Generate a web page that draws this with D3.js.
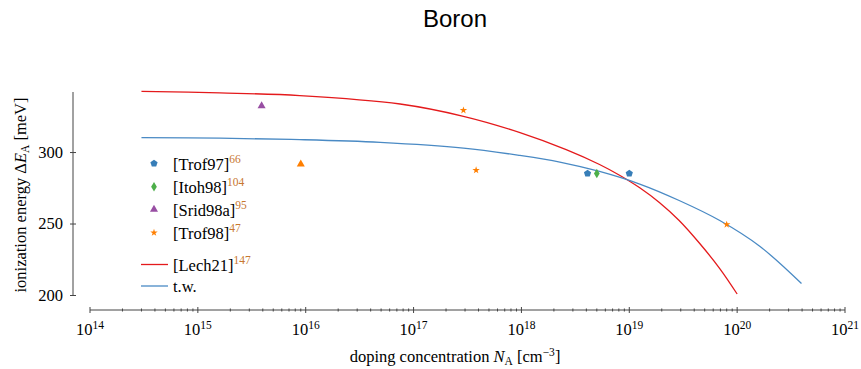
<!DOCTYPE html>
<html>
<head>
<meta charset="utf-8">
<script src="https://cdn.jsdelivr.net/npm/d3@7"></script>
<style>
    body { margin: 0; background: #fff; }
    text { font-family: "Liberation Serif", "Times New Roman", serif; }
</style>
</head>
<body>
<div id="chart"></div>
<script>
/* * * * * * * * * * * * * *
*           DATA           *
* * * * * * * * * * * * * */

// Lech21 model curve
let lechN = [3e14, 1.6e15, 8.8e15, 7.5e16, 2.9e17, 9.7e17, 2.6e18, 5.3e18, 8.2e18, 1.25e19, 1.9e19, 2.9e19, 4.5e19, 6.9e19, 1e20];
let lechE = [342.5, 341.4, 339.5, 333.6, 325.0, 313.6, 301.7, 291.3, 283.6, 275.0, 264.7, 252.1, 236.0, 218.5, 200.7];

// this work (t.w.)
let twN = [3e14, 1.6e15, 8.8e15, 4.9e16, 2.9e17, 9.7e17, 2.27e18, 5.3e18, 1.25e19, 2.9e19, 6.9e19, 1.62e20, 3.95e20];
let twE = [310.1, 309.7, 308.7, 306.8, 302.8, 297.6, 293.0, 286.4, 277.6, 266.1, 252.1, 234.1, 208.0];

// measurements
let trof97N = [4.1e18, 1e19],          trof97E = [285, 285];
let itoh98N = [5e18],                  itoh98E = [285];
let srid98aN = [3.9e15],               srid98aE = [332.2];
let trof98N = [2.9e17, 3.8e17, 8e19],  trof98E = [329.2, 287.3, 249.3];
let trof98bN = [9e15],                 trof98bE = [291.5];

let yTicks = [200, 250, 300];
let xDecades = [14, 15, 16, 17, 18, 19, 20, 21];

let legendNames = ["[Trof97]", "[Itoh98]", "[Srid98a]", "[Trof98]", "[Lech21]", "t.w."];
let legendRefs = ["66", "104", "95", "47", "147", ""];

/* * * * * * * * * * * * * *
*           MAIN           *
* * * * * * * * * * * * * */

let width = 861, height = 369;

let svg = d3.select("#chart").append("svg")
    .attr("width", width)
    .attr("height", height);

let x = d3.scaleLog().domain([1e14, 1e21]).range([90, 845]);
let y = d3.scaleLinear().domain([200, 342]).range([295, 92]);

let axisColor = "#444";
let refColor = "#c8772f";

// pentagon marker, d3 has none
let symbolPentagon = {
    draw: function(ctx, size) {
        let r = Math.sqrt(size / 2.378);
        for (let i = 0; i < 5; i++) {
            let a = -Math.PI / 2 + i * 2 * Math.PI / 5;
            if (i === 0) ctx.moveTo(r * Math.cos(a), r * Math.sin(a));
            else ctx.lineTo(r * Math.cos(a), r * Math.sin(a));
        }
        ctx.closePath();
    }
};
let symbolThinDiamond = {
    draw: function(ctx, size) {
        let h = Math.sqrt(size) * 0.75, w = h * 0.6;
        ctx.moveTo(0, -h); ctx.lineTo(w, 0); ctx.lineTo(0, h); ctx.lineTo(-w, 0);
        ctx.closePath();
    }
};

// title
svg.append("text")
    .attr("x", 455).attr("y", 27)
    .attr("text-anchor", "middle")
    .style("font-family", "'Liberation Sans', Arial, sans-serif")
    .style("font-size", "24px")
    .text("Boron");

// y axis
let yAxis = d3.axisLeft(y).tickValues(yTicks).tickSize(3).tickPadding(7);
let yG = svg.append("g")
    .attr("transform", "translate(73,0)")
    .call(yAxis);
yG.select(".domain").attr("d", "M0," + y(200) + "V" + y(342)).attr("stroke", axisColor);
yG.selectAll(".tick line").attr("x2", -3).attr("x1", 3).attr("stroke", axisColor);
yG.selectAll(".tick text")
    .style("font-size", "16.5px")
    .style("font-family", "'Liberation Serif', serif")
    .attr("fill", "#000");

// x axis, drawn by hand so ticks cross the line (pgfplots style)
let xG = svg.append("g").attr("class", "x-axis");
xG.append("line")
    .attr("x1", x(1e14)).attr("x2", x(1e21))
    .attr("y1", 310).attr("y2", 310)
    .attr("stroke", axisColor);

let minorTicks = [];
for (let d = 14; d < 21; d++) {
    for (let m = 2; m < 10; m++) minorTicks.push(m * Math.pow(10, d));
}
xG.selectAll(".minor").data(minorTicks).enter().append("line")
    .attr("class", "minor")
    .attr("x1", d => x(d)).attr("x2", d => x(d))
    .attr("y1", 308.5).attr("y2", 311.5)
    .attr("stroke", axisColor);
xG.selectAll(".major").data(xDecades).enter().append("line")
    .attr("class", "major")
    .attr("x1", d => x(Math.pow(10, d))).attr("x2", d => x(Math.pow(10, d)))
    .attr("y1", 307).attr("y2", 313)
    .attr("stroke", axisColor);

let xLabels = xG.selectAll(".xlab").data(xDecades).enter().append("text")
    .attr("class", "xlab")
    .attr("x", d => x(Math.pow(10, d)))
    .attr("y", 335)
    .attr("text-anchor", "middle")
    .style("font-size", "16.5px");
xLabels.append("tspan").text("10");
xLabels.append("tspan").attr("dy", -6).style("font-size", "11.5px").text(d => d);

// axis titles
let xt = svg.append("text")
    .attr("x", 455).attr("y", 362)
    .attr("text-anchor", "middle")
    .style("font-size", "16.5px");
xt.append("tspan").text("doping concentration ");
xt.append("tspan").style("font-style", "italic").text("N");
xt.append("tspan").attr("dy", 3).style("font-size", "11.5px").text("A");
xt.append("tspan").attr("dy", -3).text(" [cm");
xt.append("tspan").attr("dy", -6).style("font-size", "11.5px").text("\u22123");
xt.append("tspan").attr("dy", 6).text("]");

let yt = svg.append("text")
    .attr("transform", "translate(26,195) rotate(-90)")
    .attr("text-anchor", "middle")
    .style("font-size", "16.5px");
yt.append("tspan").text("ionization energy \u0394");
yt.append("tspan").style("font-style", "italic").text("E");
yt.append("tspan").attr("dy", 3).style("font-size", "11.5px").text("A");
yt.append("tspan").attr("dy", -3).text(" [meV]");

// curves
let line = d3.line()
    .x(d => x(d[0]))
    .y(d => y(d[1]))
    .curve(d3.curveCatmullRom.alpha(0.5));

let curves = [
    {n: lechN, e: lechE, color: "#e41a1c"},
    {n: twN, e: twE, color: "#4a8ac4"}
];
curves.forEach(function(c) {
    svg.append("path")
        .datum(d3.zip(c.n, c.e))
        .attr("d", line)
        .attr("fill", "none")
        .attr("stroke", c.color)
        .attr("stroke-width", 1.3);
});

// scatter series
let series = [
    {n: trof97N, e: trof97E, color: "#377eb8", type: symbolPentagon, size: 34},
    {n: itoh98N, e: itoh98E, color: "#4daf4a", type: symbolThinDiamond, size: 40},
    {n: srid98aN, e: srid98aE, color: "#984ea3", type: d3.symbolTriangle, size: 28},
    {n: trof98N, e: trof98E, color: "#ff7f00", type: d3.symbolStar, size: 17},
    {n: trof98bN, e: trof98bE, color: "#ff7f00", type: d3.symbolTriangle, size: 28}
];
series.forEach(function(s) {
    svg.selectAll(null).data(d3.zip(s.n, s.e)).enter().append("path")
        .attr("d", d3.symbol().type(s.type).size(s.size))
        .attr("transform", d => "translate(" + x(d[0]) + "," + y(d[1]) + ")")
        .attr("fill", s.color);
});

// legend
let legendY = [163.5, 186.7, 209.5, 232.7, 264.5, 286];
let legend = svg.append("g").attr("class", "legend");
legendNames.forEach(function(name, i) {
    let ly = legendY[i];
    if (i < 4) {
        let s = series[i];
        legend.append("path")
            .attr("d", d3.symbol().type(s.type).size(s.size))
            .attr("transform", "translate(154," + ly + ")")
            .attr("fill", s.color);
    } else {
        legend.append("line")
            .attr("x1", 141).attr("x2", 168)
            .attr("y1", ly).attr("y2", ly)
            .attr("stroke", curves[i - 4].color)
            .attr("stroke-width", 1.3);
    }
    let t = legend.append("text")
        .attr("x", 173).attr("y", ly + 6)
        .style("font-size", "16.5px");
    t.append("tspan").text(name);
    if (legendRefs[i]) {
        t.append("tspan").attr("dy", -7)
            .style("font-size", "11.5px")
            .attr("fill", refColor)
            .text(legendRefs[i]);
    }
});
</script>
</body>
</html>
